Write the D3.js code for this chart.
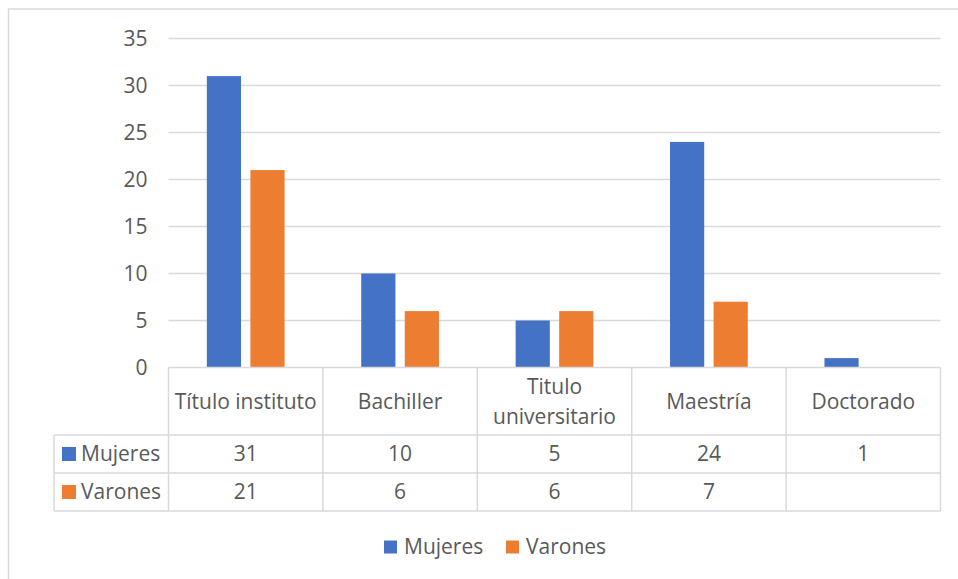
<!DOCTYPE html>
<html>
<head>
<meta charset="utf-8">
<script src="https://cdn.jsdelivr.net/npm/d3@7"></script>
<style>
  body { margin: 0; background: #fff; }
  text { font-family: "Open Sans", "Noto Sans", sans-serif; fill: #595959; }
</style>
</head>
<body>
<svg id="chart" width="958" height="579"></svg>
<script>
// Data
const categories = ['Título instituto', 'Bachiller', 'Titulo\nuniversitario', 'Maestría', 'Doctorado'];
const seriesNames = ['Mujeres', 'Varones'];
const mujeres = [31, 10, 5, 24, 1];
const varones = [21, 6, 6, 7, null];
const yTicks = [0, 5, 10, 15, 20, 25, 30, 35];
const colours = ['#4472C4', '#ED7D31'];

const seriesValues = [mujeres, varones];
const rows = categories.map((c, i) => ({ cat: c, values: seriesValues.map(s => s[i]) }));

const svg = d3.select('#chart');
const gridColour = '#d9d9d9';
const fontSize = 21;

// outer chart border (runs off the picture on the right and bottom)
svg.append('rect')
    .attr('x', 8.5).attr('y', 9)
    .attr('width', 1000).attr('height', 600)
    .attr('fill', 'none')
    .attr('stroke', gridColour)
    .attr('stroke-width', 1.5);

const plot = { left: 168.5, right: 940.5, top: 38.5, bottom: 367.5 };

// x scale: one band per category
const x0 = d3.scaleBand()
    .domain(categories)
    .range([plot.left, plot.right])
    .padding(0);

const x1 = d3.scaleBand()
    .domain(seriesNames)
    .range([0, x0.bandwidth()])
    .paddingInner(0.215)
    .paddingOuter(0.88);

const y = d3.scaleLinear()
    .domain([0, 35])
    .range([plot.bottom, plot.top]);

// gridlines
svg.append('g').selectAll('line')
    .data(yTicks.filter(d => d > 0))
    .join('line')
    .attr('x1', plot.left).attr('x2', plot.right)
    .attr('y1', d => y(d)).attr('y2', d => y(d))
    .attr('stroke', gridColour)
    .attr('stroke-width', 1.5);

// y axis labels
const yAxis = d3.axisLeft(y).tickValues(yTicks).tickSize(0).tickPadding(21);
svg.append('g')
    .attr('transform', `translate(${plot.left},0)`)
    .call(yAxis)
    .call(g => g.select('.domain').remove())
    .call(g => g.selectAll('text')
        .attr('font-size', fontSize)
        .attr('font-family', null)
        .attr('fill', '#595959'));

// bars
const groups = svg.append('g').selectAll('g')
    .data(rows)
    .join('g')
    .attr('transform', d => `translate(${x0(d.cat)},0)`);

groups.selectAll('rect')
    .data(d => d.values.map((v, i) => ({ key: seriesNames[i], value: v, i })).filter(d => d.value != null))
    .join('rect')
    .attr('x', d => x1(d.key))
    .attr('width', x1.bandwidth())
    .attr('y', d => y(d.value))
    .attr('height', d => y(0) - y(d.value))
    .attr('fill', d => colours[d.i]);

// data table under the chart
const table = { left: 54, header: plot.bottom, row1: 435, row2: 473, bottom: 511 };
const tg = svg.append('g')
    .attr('stroke', gridColour)
    .attr('stroke-width', 1.5);

// horizontal lines
tg.append('line').attr('x1', plot.left).attr('x2', plot.right).attr('y1', table.header).attr('y2', table.header);
[table.row1, table.row2, table.bottom].forEach(yy => {
    tg.append('line').attr('x1', table.left).attr('x2', plot.right).attr('y1', yy).attr('y2', yy);
});
// vertical lines
tg.append('line').attr('x1', table.left).attr('x2', table.left).attr('y1', table.row1).attr('y2', table.bottom);
categories.forEach(c => {
    tg.append('line').attr('x1', x0(c)).attr('x2', x0(c)).attr('y1', table.header).attr('y2', table.bottom);
});
tg.append('line').attr('x1', plot.right).attr('x2', plot.right).attr('y1', table.header).attr('y2', table.bottom);

// header labels
const headerMid = (table.header + table.row1) / 2;
svg.append('g').selectAll('text')
    .data(categories)
    .join('text')
    .attr('x', d => x0(d) + x0.bandwidth() / 2)
    .attr('y', headerMid)
    .attr('text-anchor', 'middle')
    .attr('font-size', fontSize)
    .each(function (d) {
        const lines = d.split('\n');
        const lh = 30;
        d3.select(this).selectAll('tspan')
            .data(lines)
            .join('tspan')
            .attr('x', x0(d) + x0.bandwidth() / 2)
            .attr('y', (l, i) => headerMid + (i - (lines.length - 1) / 2) * lh)
            .attr('dy', '0.35em')
            .text(l => l);
    });

// rows of values
const rowTops = [table.row1, table.row2];
const rowBottoms = [table.row2, table.bottom];
seriesNames.forEach((name, si) => {
    const mid = (rowTops[si] + rowBottoms[si]) / 2;
    svg.append('rect')
        .attr('x', 62).attr('y', mid - 7)
        .attr('width', 14).attr('height', 14)
        .attr('fill', colours[si]);
    svg.append('text')
        .attr('x', 81).attr('y', mid)
        .attr('dy', '0.35em')
        .attr('font-size', fontSize)
        .text(name);
    svg.append('g').selectAll('text')
        .data(categories.map((c, i) => ({ cat: c, value: seriesValues[si][i] })).filter(d => d.value != null))
        .join('text')
        .attr('x', d => x0(d.cat) + x0.bandwidth() / 2)
        .attr('y', mid)
        .attr('dy', '0.35em')
        .attr('text-anchor', 'middle')
        .attr('font-size', fontSize)
        .text(d => d.value);
});

// legend at the bottom
const legend = svg.append('g').attr('transform', 'translate(384,547)');
const legendX = [0, 122];
seriesNames.forEach((name, i) => {
    legend.append('rect')
        .attr('x', legendX[i]).attr('y', -6.5)
        .attr('width', 13).attr('height', 13)
        .attr('fill', colours[i]);
    legend.append('text')
        .attr('x', legendX[i] + 20).attr('y', 0)
        .attr('dy', '0.35em')
        .attr('font-size', fontSize)
        .text(name);
});
</script>
</body>
</html>
